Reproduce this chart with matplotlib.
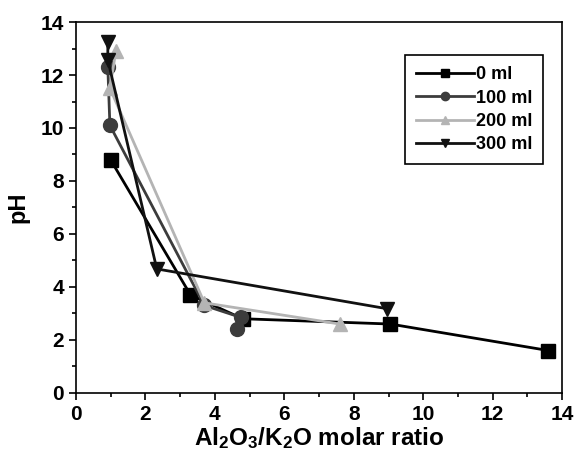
import matplotlib
matplotlib.use("Agg")
import matplotlib.pyplot as plt
from matplotlib.ticker import MultipleLocator

plt.rcParams['font.family'] = ['Liberation Sans', 'DejaVu Sans']
plt.rcParams['font.weight'] = 'bold'
plt.rcParams['mathtext.fontset'] = 'custom'
plt.rcParams['mathtext.bf'] = 'Liberation Sans:bold'
plt.rcParams['mathtext.rm'] = 'Liberation Sans:bold'
plt.rcParams['mathtext.default'] = 'bf'

# data
x_0 = [1.0, 3.3, 4.8, 9.05, 13.6]
y_0 = [8.8, 3.7, 2.8, 2.6, 1.6]

x_100 = [0.92, 0.98, 3.7, 4.75, 4.65]
y_100 = [12.3, 10.1, 3.3, 2.85, 2.4]

x_200 = [1.15, 0.98, 3.7, 7.6]
y_200 = [12.9, 11.5, 3.4, 2.6]

x_300 = [0.92, 0.92, 2.33, 8.95]
y_300 = [13.25, 12.57, 4.68, 3.18]

fig = plt.figure(figsize=(5.79, 4.59), dpi=100)
ax = fig.add_axes([0.131, 0.144, 0.84, 0.808])

ax.plot(x_0, y_0, color="black", lw=2, marker="s", ms=9.5, label="0 ml")
ax.plot(x_100, y_100, color="#3c3c3c", lw=2, marker="o", ms=10, label="100 ml")
ax.plot(x_200, y_200, color="#b4b4b4", lw=2, marker="^", ms=10, label="200 ml")
ax.plot(x_300, y_300, color="#111111", lw=2, marker="v", ms=10, label="300 ml")

ax.set_xlim(0, 14)
ax.set_ylim(0, 14)
ax.xaxis.set_major_locator(MultipleLocator(2))
ax.xaxis.set_minor_locator(MultipleLocator(1))
ax.yaxis.set_major_locator(MultipleLocator(2))
ax.yaxis.set_minor_locator(MultipleLocator(1))
ax.tick_params(which="major", direction="out", length=5, width=1.2, labelsize=15)
ax.tick_params(which="minor", direction="out", length=3, width=1.2)
for s in ax.spines.values():
    s.set_linewidth(1.2)

ax.set_xlabel(r"Al$_2$O$_3$/K$_2$O molar ratio", fontsize=17.5, fontweight="bold", labelpad=1)
ax.set_ylabel("pH", fontsize=17, fontweight="bold", labelpad=8)

leg = ax.legend(loc="upper right", bbox_to_anchor=(0.96, 0.91), borderaxespad=0,
                fontsize=13, handlelength=3.2, fancybox=False, framealpha=1,
                edgecolor="black", borderpad=0.6, labelspacing=0.35,
                handletextpad=0.1, markerscale=0.6)
leg.get_frame().set_linewidth(1.2)

plt.savefig("out.png", dpi=100)
